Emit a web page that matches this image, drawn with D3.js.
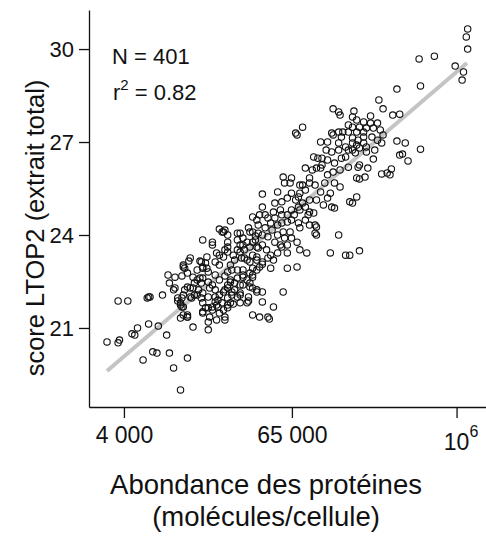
<!DOCTYPE html>
<html>
<head>
<meta charset="utf-8">
<script src="https://cdn.jsdelivr.net/npm/d3@7"></script>
<style>
  html, body { margin: 0; padding: 0; background: #fff; }
  svg { display: block; }
  text { font-family: "Liberation Sans", Arial, Helvetica, sans-serif; fill: #111; }
</style>
</head>
<body>
<svg id="chart" width="486" height="537"></svg>
<script>
// log10 of protein abundance (molecules/cell)
const log10Abundance = [
5.11,5.15,5.16,4.89,4.84,5.10,5.15,5.18,5.22,5.22,
6.08,6.07,6.08,5.73,5.84,5.99,6.05,6.04,5.74,5.57,
5.44,5.47,5.54,5.59,5.26,5.38,5.28,5.33,5.38,5.43,
5.25,5.30,5.35,5.40,5.45,5.28,5.33,5.25,5.57,5.63,
5.74,5.46,5.59,5.61,5.65,5.40,5.36,5.30,5.29,5.46,
5.50,5.52,5.53,5.34,5.28,5.30,5.28,5.25,5.30,5.23,
5.25,5.29,5.33,5.25,5.28,5.33,5.25,5.30,5.35,5.27,
4.85,5.02,5.07,5.11,5.17,5.20,5.15,5.10,5.20,4.97,
5.00,5.03,4.99,5.02,4.91,5.07,5.22,5.12,5.16,5.09,
4.75,4.81,4.76,4.80,4.87,4.89,4.94,5.02,4.99,4.87,
4.84,4.94,4.71,4.60,4.69,4.74,4.78,4.86,4.81,4.89,
4.68,4.73,4.78,4.60,5.23,5.10,5.12,4.58,4.62,4.93,
4.94,4.97,4.91,4.94,4.98,4.99,4.99,4.98,5.15,4.86,
4.87,4.78,4.81,4.74,4.80,4.75,4.66,4.71,4.64,4.56,
4.53,4.37,4.32,4.35,4.44,4.42,4.53,4.57,4.60,4.64,
4.71,4.69,4.81,4.85,4.78,4.74,4.87,4.92,4.78,5.09,
5.20,4.60,4.63,4.53,4.56,4.46,4.44,4.35,4.33,4.39,
4.47,4.64,4.68,4.56,4.71,4.17,4.24,4.24,4.08,4.07,
4.03,3.92,3.97,4.02,4.06,4.16,4.19,4.17,4.13,4.10,
4.15,4.16,4.06,4.08,3.97,3.88,3.79,4.03,3.99,4.09,
4.11,4.17,4.21,4.01,4.02,4.17,4.21,4.24,4.28,4.03,
4.06,4.17,4.22,4.26,4.28,4.31,4.27,4.29,4.35,4.32,
4.26,4.29,4.35,4.31,4.33,4.35,4.38,4.37,4.35,4.33,
4.38,4.29,4.35,4.37,4.35,4.29,4.33,4.42,4.44,4.40,
4.44,4.46,4.49,4.51,4.53,4.42,4.46,4.40,4.45,4.49,
4.42,4.44,4.49,4.51,4.55,4.42,4.51,4.53,4.56,4.57,
4.58,4.56,4.51,4.53,4.56,4.50,4.44,4.49,4.53,4.58,
4.64,4.60,4.60,4.75,4.68,4.04,4.17,4.20,4.13,4.17,
4.21,4.10,4.04,3.96,3.93,3.77,3.78,3.63,3.56,3.99,
4.02,4.01,4.03,4.08,4.13,4.22,4.16,4.26,4.19,4.24,
4.27,4.17,4.01,4.06,4.06,4.10,4.21,4.21,4.27,3.78,
3.85,3.70,3.66,3.68,3.57,3.56,3.48,3.91,3.81,3.84,
3.74,3.93,4.06,3.96,4.01,4.29,4.15,4.20,4.03,4.66,
4.78,4.85,4.50,4.65,4.33,4.39,4.35,4.32,4.44,4.38,
4.56,4.46,4.51,4.35,4.32,4.42,4.46,4.53,4.37,4.60,
4.53,
4.47,4.51,4.60,4.66,4.73,4.76,4.67,4.62,4.57,4.50,
4.46,4.55,4.69,4.74,4.83,4.87,4.91,4.86,4.81,4.91,
4.94,4.98,5.05,5.03,5.07,5.12,5.16,5.11,5.17,5.22,
5.15,5.06,4.96,5.07,5.04,
5.39,5.43,5.35,5.41,5.47,
4.11,4.14,4.24,4.26,4.29,4.26,4.21,4.37,4.40,4.33
];
// LTOP2 score (total extract)
const ltop2Score = [
28.07,27.97,27.87,27.48,27.29,27.29,27.32,27.32,27.55,27.32,
30.65,30.39,30.00,29.68,29.77,29.45,29.26,29.00,28.81,28.71,
28.36,28.07,27.87,27.90,28.00,27.84,27.71,27.65,27.61,27.61,
27.48,27.48,27.45,27.45,27.39,27.32,27.32,27.81,27.03,26.97,
26.77,26.97,26.58,26.61,26.39,26.45,26.16,26.26,26.19,25.97,
26.00,25.94,26.13,25.87,25.84,25.81,25.23,25.03,23.49,23.35,
27.13,27.06,27.16,26.97,26.90,26.97,26.74,26.81,26.68,26.65,
27.23,27.00,27.00,27.23,27.16,26.84,26.74,26.68,26.52,26.52,
26.48,26.48,26.16,26.16,26.16,25.94,26.19,25.68,25.55,25.35,
25.87,25.84,25.68,25.68,25.61,25.61,25.68,25.39,25.13,25.35,
25.13,25.13,25.39,25.32,25.03,25.07,25.19,24.90,24.81,25.03,
24.74,24.81,24.65,24.90,25.07,24.90,24.87,24.65,24.65,24.65,
24.74,24.71,24.48,24.32,24.32,24.26,24.00,24.06,24.00,24.39,
24.23,24.42,24.48,24.39,24.10,24.10,24.39,24.32,24.55,24.48,
24.58,24.45,24.10,24.00,24.06,23.84,24.10,24.06,24.00,23.94,
24.00,23.77,23.90,23.77,23.68,23.61,23.52,23.42,23.42,23.42,
23.35,23.68,23.52,23.77,23.61,23.68,23.45,23.77,23.52,23.35,
23.26,23.26,23.19,23.19,23.42,23.84,23.77,23.68,23.26,23.16,
22.97,22.71,22.64,22.68,22.77,23.13,23.10,22.93,22.87,22.64,
22.61,22.45,22.32,22.29,22.29,22.06,22.00,22.06,21.97,21.97,
22.06,22.13,22.00,21.81,21.68,21.81,21.65,21.58,21.68,21.42,
21.35,21.48,21.35,21.84,21.90,21.81,23.42,23.35,23.45,23.29,
23.13,23.03,23.61,24.10,24.16,22.81,22.87,22.55,22.39,22.23,
22.16,22.06,21.97,21.81,21.65,21.48,21.35,22.00,22.13,22.45,
22.39,22.64,22.55,22.77,22.64,22.87,22.87,23.19,23.26,23.19,
23.52,23.68,23.77,23.61,23.97,24.06,24.10,23.35,23.29,23.58,
22.97,22.87,22.32,22.29,22.23,22.00,21.81,21.81,21.42,21.35,
21.35,22.16,21.84,22.16,21.68,22.93,22.97,22.93,22.55,22.61,
22.48,22.29,22.23,22.23,22.45,21.97,22.00,21.87,21.87,21.87,
21.97,21.74,21.68,22.00,22.06,22.29,21.97,22.00,21.65,21.68,
21.74,21.52,21.32,21.35,21.42,21.03,21.19,20.94,21.26,21.13,
21.06,21.00,20.81,20.77,20.61,20.52,20.55,20.77,20.23,20.19,
19.97,20.19,20.03,19.71,19.00,24.19,23.16,23.29,23.03,22.93,
22.93,22.97,21.87,21.29,21.26,21.77,21.74,21.58,22.06,22.06,
22.16,22.39,22.45,22.29,22.16,22.61,22.71,22.71,22.48,23.06,
22.93,
23.52,23.13,23.13,23.35,23.68,23.90,24.16,24.23,24.32,24.23,
23.90,23.84,24.55,24.65,24.65,24.81,24.90,25.23,25.35,25.45,
25.84,25.61,25.68,26.26,26.42,26.32,26.10,26.03,26.48,26.74,
26.97,26.74,26.10,25.19,24.97,
27.16,27.06,26.84,26.74,27.23,
22.45,22.23,22.39,22.23,22.55,22.71,22.81,23.03,22.23,22.68
];

const xTickValues = [4000, 65000, 1e6];
const xTickBase = ["4 000", "65 000", "10"];
const xTickSup = ["", "", "6"];
const yTickValues = [21, 24, 27, 30];

// regression line: score = intercept + slope * log10(abundance)
const fitIntercept = 6.28;
const fitSlope = 3.83;
const fitLogRange = [3.48, 6.075];

const statN = "N = 401";
const statR2 = "0.82";
const xTitle = ["Abondance des protéines", "(molécules/cellule)"];
const yTitle = "score LTOP2 (extrait total)";

const points = log10Abundance.map((l, i) => ({ x: Math.pow(10, l), y: ltop2Score[i] }));

const svg = d3.select("#chart");
const x = d3.scaleLog().domain([2240, 1630000]).range([89, 486]);
const y = d3.scaleLinear().domain([18.45, 31.26]).range([407, 10]);

// regression line
const fitData = fitLogRange.map(l => ({ x: Math.pow(10, l), y: fitIntercept + fitSlope * l }));
svg.append("path")
  .datum(fitData)
  .attr("d", d3.line().x(d => x(d.x)).y(d => y(d.y)))
  .attr("stroke", "#c4c4c4")
  .attr("stroke-width", 4)
  .attr("fill", "none");

// points
svg.append("g").selectAll("circle")
  .data(points)
  .join("circle")
  .attr("cx", d => x(d.x))
  .attr("cy", d => y(d.y))
  .attr("r", 3.2)
  .attr("fill", "none")
  .attr("stroke", "#111")
  .attr("stroke-width", 1.1);

// x axis
const xAxis = svg.append("g")
  .attr("transform", "translate(0,407)")
  .call(d3.axisBottom(x).tickValues(xTickValues).tickSize(11).tickSizeOuter(0).tickPadding(9).tickFormat(() => ""));
xAxis.select(".domain").attr("stroke", "#111").attr("stroke-width", 1.3);
xAxis.selectAll(".tick line").attr("stroke", "#111").attr("stroke-width", 1.3);
xAxis.selectAll(".tick text").each(function(d, i) {
  const t = d3.select(this)
    .attr("font-size", 23)
    .attr("font-family", "Liberation Sans, Arial, sans-serif")
    .attr("fill", "#111");
  t.append("tspan").text(xTickBase[i]);
  if (xTickSup[i]) {
    t.attr("dy", "1.02em").attr("dx", 4);
    t.append("tspan").text(xTickSup[i]).attr("font-size", 16).attr("dy", -13);
  }
});

// y axis
const yAxis = svg.append("g")
  .attr("transform", "translate(89,0)")
  .call(d3.axisLeft(y).tickValues(yTickValues).tickSize(10).tickSizeOuter(0).tickPadding(5));
yAxis.select(".domain").attr("stroke", "#111").attr("stroke-width", 1.3);
yAxis.selectAll(".tick line").attr("stroke", "#111").attr("stroke-width", 1.3);
yAxis.selectAll(".tick text")
  .attr("font-size", 22)
  .attr("font-family", "Liberation Sans, Arial, sans-serif")
  .attr("fill", "#111");

// stats
svg.append("text").attr("x", 112).attr("y", 64).attr("font-size", 22).text(statN);
const r2 = svg.append("text").attr("x", 113).attr("y", 100).attr("font-size", 22);
r2.append("tspan").text("r");
r2.append("tspan").text("2").attr("font-size", 15).attr("dy", -10);
r2.append("tspan").text(" = " + statR2).attr("dy", 10);

// axis titles
svg.append("text").attr("x", 266).attr("y", 494).attr("text-anchor", "middle").attr("font-size", 27.5).text(xTitle[0]);
svg.append("text").attr("x", 266).attr("y", 526).attr("text-anchor", "middle").attr("font-size", 27.5).text(xTitle[1]);
svg.append("text")
  .attr("transform", "translate(44,228) rotate(-90)")
  .attr("text-anchor", "middle")
  .attr("font-size", 25.5)
  .text(yTitle);
</script>
</body>
</html>
